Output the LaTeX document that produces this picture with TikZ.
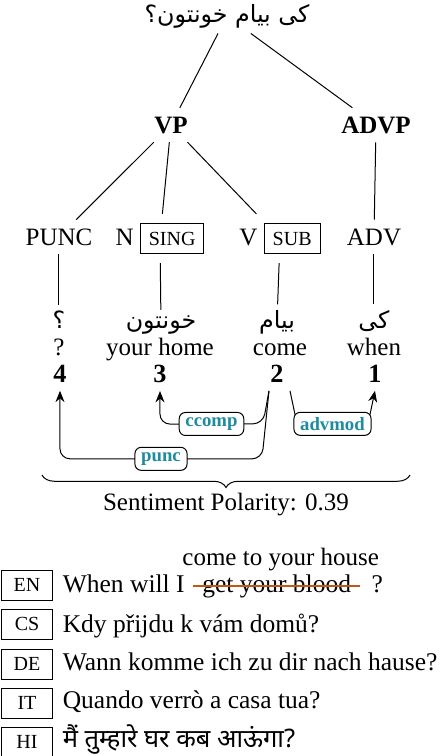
\documentclass[tikz,border=0pt]{standalone}
\usepackage{fontspec}
\setmainfont{Liberation Serif}
\newfontfamily\farsifont[Script=Arabic]{DejaVu Sans}
\newfontfamily\hindifont[Script=Devanagari]{Noto Sans}
\TeXXeTstate=1
\usetikzlibrary{calc,arrows.meta,decorations.pathreplacing}
\definecolor{deplabelcol}{RGB}{30,140,160}
\definecolor{strikecol}{RGB}{190,90,20}
\newcommand{\fa}[1]{{\farsifont\beginR #1\endR}}
\newcommand{\postag}[1]{{\setlength{\fboxsep}{3.2pt}\fbox{\footnotesize #1}}}
\tikzset{
  rootword/.style={
    font=\fontsize{9.5}{11}\selectfont,
    inner sep = 2pt
  },
  phrase/.style={
    font=\bfseries
  },
  postext/.style={
    anchor=base
  },
  farsiword/.style={
    anchor=base,
    inner sep = 2pt,
    font=\fontsize{9.5}{11}\selectfont
  },
  gloss/.style={
    anchor=base,
    inner sep = 1pt
  },
  tokid/.style={
    anchor=base,
    font=\fontsize{10.5}{12}\selectfont\bfseries
  },
  dep/.style={
    rounded corners=4pt,
    -{Stealth[length=4.5pt,width=3.6pt]}
  },
  deplabel/.style={
    draw,
    fill=white,
    rounded corners=2.5pt,
    text=deplabelcol,
    font=\fontsize{7.5}{9}\selectfont\bfseries,
    inner xsep = 2.5pt,
    inner ysep = 1.5pt,
    minimum height=9.2pt
  },
  polbrace/.style={
    decorate,
    decoration={brace,mirror,amplitude=5pt}
  },
  langtag/.style={
    draw,
    font=\footnotesize,
    minimum width=20.4pt,
    minimum height=12pt,
    inner sep = 0pt
  },
  sent/.style={
    anchor=base west,
    font=\fontsize{10.2}{12}\selectfont
  },
  strike/.style={
    strikecol,
    line width=0.8pt
  }
}

\begin{document}
\begin{tikzpicture}[x=0.4pt,y=-0.4pt]
    \useasboundingbox (0,0) rectangle (442,756);
    % tree
    \node[rootword] (root) at (227,16) {\fa{کی بیام خونتون؟}};
    \node[phrase] (vp) at (171,125) {VP};
    \node[phrase] (advp) at (376,125) {ADVP};
    \node[postext] (punc) at (59,245) {PUNC};
    \node[postext] (nsing) at (160,245) {N~\postag{SING}};
    \node[postext] (vsub) at (280,245) {V~\postag{SUB}};
    \node[postext] (adv) at (374,245) {ADV};
    \draw (root) -- (vp);
    \draw (root) -- (advp);
    \draw (vp) -- (punc);
    \draw (vp) -- (nsing);
    \draw (vp) -- (vsub);
    \draw (advp) -- (adv);

    % words, glosses, token ids
    \node[farsiword] (w4) at (59,328) {\fa{؟}};
    \node[farsiword] (w3) at (161,328) {\fa{خونتون}};
    \node[farsiword] (w2) at (277,328) {\fa{بیام}};
    \node[farsiword] (w1) at (374,328) {\fa{کی}};
    \draw (punc) -- (w4);
    \draw (nsing) -- (w3);
    \draw (vsub) -- (w2);
    \draw (adv) -- (w1);
    \node[gloss] (g4) at (59,355) {?};
    \node[gloss] (g3) at (160,355) {your home};
    \node[gloss] (g2) at (280,355) {come};
    \node[gloss] (g1) at (374,355) {when};
    \node[tokid] (n4) at (60,382) {4};
    \node[tokid] (n3) at (160,382) {3};
    \node[tokid] (n2) at (277,382) {2};
    \node[tokid] (n1) at (375,382) {1};

    % dependency arcs
    \draw[dep] ($(n2.south)+(-8,0)$) -- ($(n2.south)+(-15,68)$)
        -- node[deplabel] {punc} ($(n4.south)+(0,68)$) -- (n4.south);
    \draw[dep] ($(n2.south)+(-8,0)$) -- ($(n2.south)+(-14,33)$)
        -- node[deplabel] {ccomp} ($(n3.south)+(0,33)$) -- (n3.south);
    \draw[dep] ($(n2.south)+(13,0)$) -- ($(n2.south)+(20,33)$)
        -- node[deplabel] {advmod} ($(n1.south)+(-7,33)$) -- (n1.south);

    \draw[polbrace] (42,475) -- (410,475);
    \node (polarity) at (226,505) {Sentiment Polarity: 0.39};

    % translations
    \node[langtag] (en) at (27,585) {EN};
    \node[sent] (ensent) at (54,592) {When will I};
    \node[sent] (blood) at (ensent.base east) {get your blood};
    \node[sent] (enq) at ($(blood.base east)+(3,0)$) {?};
    \draw[strike] (blood.west) -- (blood.east);
    \node[anchor=base] (fix) at ($(blood.base)+(4,-27)$) {come to your house};

    \node[langtag] (cs) at (27,624) {CS};
    \node[sent] (cssent) at (54,632) {Kdy přijdu k vám domů?};
    \node[langtag] (de) at (27,664) {DE};
    \node[sent] (desent) at (54,670) {Wann komme ich zu dir nach hause?};
    \node[langtag] (it) at (27,703) {IT};
    \node[sent] (itsent) at (54,708) {Quando verrò a casa tua?};
    \node[langtag] (hi) at (27,742) {HI};
    \node[sent] (hisent) at (54,747) {\hindifont मैं तुम्हारे घर कब आऊंगा?};
\end{tikzpicture}
\end{document}
